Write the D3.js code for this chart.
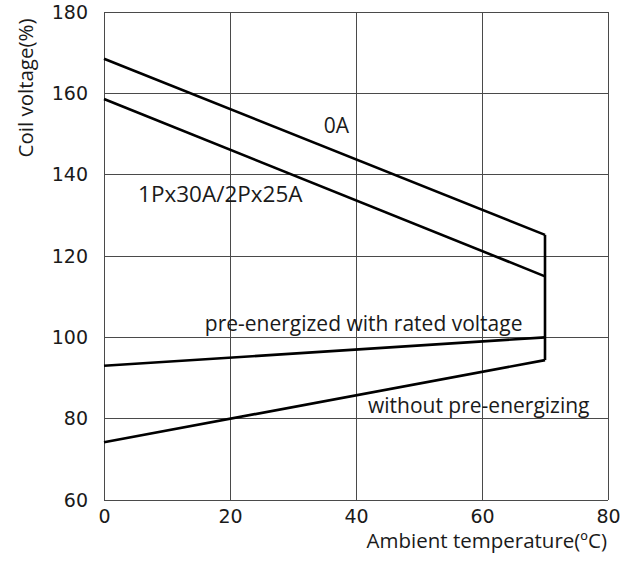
<!DOCTYPE html>
<html>
<head>
<meta charset="utf-8">
<script src="https://cdn.jsdelivr.net/npm/d3@7"></script>
<style>
  html, body { margin: 0; padding: 0; background: #fff; }
  svg { display: block; }
  text { font-family: "Open Sans", "DejaVu Sans", sans-serif; fill: #1a1a1a; }
</style>
</head>
<body>
<svg id="chart" width="633" height="562"></svg>
<script>
// Axis ticks
const xTicks = [0, 20, 40, 60, 80];
const yTicks = [60, 80, 100, 120, 140, 160, 180];

// Coil voltage (%) vs ambient temperature (°C)
const tempPoints = [0, 70];
const curve0A = [168.5, 125.2];
const curve1P = [158.6, 115.0];
const curvePre = [93.0, 100.0];
const curveWithout = [74.2, 94.4];

// Closing segment at the maximum ambient temperature
const edgeTemp = 70;
const edgeRange = [125.2, 94.4];

// In-plot labels: text, anchor temperature, anchor voltage
const labelText = ["0A", "1Px30A/2Px25A", "pre-energized with rated voltage", "without pre-energizing"];
const labelTemp = [34.9, 5.4, 16.0, 41.9];
const labelVolt = [150.2, 133.3, 101.6, 81.4];
const labelSize = [21, 22.5, 21, 21];

const svg = d3.select("#chart");
const x = d3.scaleLinear().domain([0, 80]).range([104, 608]);
const y = d3.scaleLinear().domain([60, 180]).range([500, 12]);

// Gridlines
const grid = svg.append("g");
grid.selectAll("line.v").data(xTicks).join("line")
  .attr("x1", d => x(d)).attr("x2", d => x(d))
  .attr("y1", y(60)).attr("y2", y(180))
  .attr("stroke", "#4a4a4a").attr("stroke-width", 1).attr("shape-rendering", "crispEdges");
grid.selectAll("line.h").data(yTicks).join("line")
  .attr("x1", x(0)).attr("x2", x(80))
  .attr("y1", d => y(d)).attr("y2", d => y(d))
  .attr("stroke", "#4a4a4a").attr("stroke-width", 1).attr("shape-rendering", "crispEdges");

// Axes (labels only; frame comes from gridlines)
const xAxis = svg.append("g").attr("transform", `translate(0,${y(60)})`)
  .call(d3.axisBottom(x).tickValues(xTicks).tickSize(0).tickPadding(6));
const yAxis = svg.append("g").attr("transform", `translate(${x(0)},0)`)
  .call(d3.axisLeft(y).tickValues(yTicks).tickSize(0).tickPadding(16));
[xAxis, yAxis].forEach(a => {
  a.select(".domain").remove();
  a.selectAll("text").style("font-size", "19px").style("font-family", "'DejaVu Sans', sans-serif").attr("fill", "#1a1a1a");
});
xAxis.selectAll("text").attr("dy", "0.92em");

// Curves
const line = d3.line().x(d => x(d[0])).y(d => y(d[1]));
const series = [curve0A, curve1P, curvePre, curveWithout];
svg.append("g").selectAll("path").data(series).join("path")
  .attr("d", s => line(tempPoints.map((t, i) => [t, s[i]])))
  .attr("fill", "none").attr("stroke", "#000").attr("stroke-width", 2.6);
svg.append("path")
  .attr("d", line(edgeRange.map(v => [edgeTemp, v])))
  .attr("fill", "none").attr("stroke", "#000").attr("stroke-width", 2.6);

// Curve labels
svg.append("g").selectAll("text").data(labelText).join("text")
  .attr("x", (d, i) => x(labelTemp[i]))
  .attr("y", (d, i) => y(labelVolt[i]))
  .style("font-size", (d, i) => labelSize[i] + "px")
  .text(d => d);

// Axis titles
svg.append("text")
  .attr("x", 607).attr("y", 548)
  .attr("text-anchor", "end")
  .style("font-size", "20.5px")
  .text("Ambient temperature(ºC)");
svg.append("text")
  .attr("transform", `translate(33,${88}) rotate(-90)`)
  .attr("text-anchor", "middle")
  .style("font-size", "20.5px")
  .text("Coil voltage(%)");
</script>
</body>
</html>
